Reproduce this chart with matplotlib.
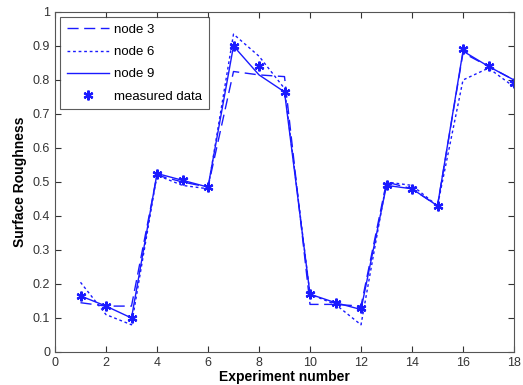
import matplotlib
matplotlib.use("Agg")
import matplotlib.pyplot as plt

experiments = list(range(1, 19))
node3 = [0.145, 0.135, 0.135, 0.52, 0.50, 0.485, 0.825, 0.815, 0.81,
         0.14, 0.14, 0.135, 0.50, 0.48, 0.43, 0.88, 0.84, 0.80]
node6 = [0.205, 0.11, 0.08, 0.52, 0.49, 0.48, 0.935, 0.87, 0.775,
         0.17, 0.14, 0.08, 0.50, 0.49, 0.43, 0.80, 0.835, 0.78]
node9 = [0.165, 0.135, 0.10, 0.525, 0.505, 0.485, 0.90, 0.815, 0.765,
         0.17, 0.145, 0.125, 0.49, 0.48, 0.43, 0.885, 0.84, 0.80]
measured = [0.165, 0.135, 0.10, 0.525, 0.505, 0.485, 0.90, 0.84, 0.765,
            0.17, 0.145, 0.13, 0.49, 0.48, 0.43, 0.89, 0.84, 0.79]

plt.rcParams['font.family'] = ['Liberation Sans', 'DejaVu Sans']
fig = plt.figure(figsize=(5.23, 3.85), dpi=100)
ax = fig.add_axes([55/523, 1-352/385, (514-55)/523, (352-12)/385])

blue = '#1a1aff'
ax.plot(experiments, node3, color=blue, lw=1.0, dashes=(8, 4), label='node 3')
ax.plot(experiments, node6, color=blue, lw=1.0, dashes=(2, 2), label='node 6')
ax.plot(experiments, node9, color=blue, lw=1.0, ls='-', label='node 9')
ax.plot(experiments, measured, color=blue, ls='none', marker=(6, 2, 0), ms=7,
        mew=1.6, label='measured data')

ax.set_xlim(0, 18)
ax.set_ylim(0, 1)
ax.set_xticks(range(0, 19, 2))
ax.set_yticks([i/10 for i in range(11)])
ax.set_yticklabels(['0'] + [f'0.{i}' for i in range(1, 10)] + ['1'])
ax.tick_params(direction='in', top=True, right=True, labelsize=9, length=4,
               colors='#333333', labelcolor='#333333')
for s in ax.spines.values():
    s.set_color('#555555')
    s.set_linewidth(0.8)
ax.set_xlabel('Experiment number', fontsize=10, fontweight='bold', labelpad=1)
ax.set_ylabel('Surface Roughness', fontsize=10, fontweight='bold', labelpad=4)

leg = ax.legend(loc='upper left', fontsize=9.5, frameon=True, fancybox=False,
                edgecolor='#333333', handlelength=3.2, handletextpad=0.4,
                borderaxespad=0.4, labelspacing=0.75, borderpad=0.5)
leg.get_frame().set_linewidth(0.8)

fig.savefig('out.png', dpi=100)
